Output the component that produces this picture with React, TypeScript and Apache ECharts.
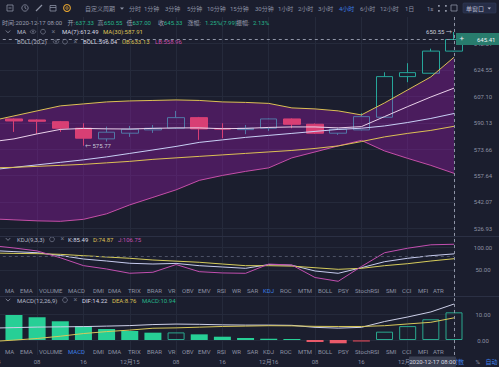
import React, { useEffect, useRef } from 'react';
import * as echarts from 'echarts';

// ---------------- data ----------------
const CATEGORIES = ['12月14', '04', '08', '12', '16', '20', '12月15', '04', '08', '12', '16', '20', '12月16', '04', '08', '12', '16', '20', '12月17', '04', '08'];
const OPEN = [591.6, 592.57, 591.93, 590.84, 586.7, 580.02, 583.58, 585.64, 586.7, 593.41, 586.57, 585.82, 586.7, 592.57, 589.19, 583.58, 585.64, 593.67, 620.12, 622.37, 637.33];
const CLOSE = [591.0, 591.29, 591.1, 586.7, 580.46, 584.2, 586.07, 586.7, 593.41, 586.26, 586.14, 586.7, 592.57, 589.19, 583.58, 586.07, 594.05, 620.12, 622.77, 637.34, 645.33];
const LOW = [589.5, 584.39, 583.14, 584.39, 575.77, 578.34, 581.27, 583.77, 586.26, 579.4, 580.46, 582.95, 585.01, 586.7, 583.14, 582.52, 585.33, 593.22, 616.42, 622.24, 637.0];
const HIGH = [592.4, 592.89, 592.25, 591.29, 589.82, 587.7, 588.13, 588.76, 597.72, 593.86, 589.82, 588.76, 592.89, 592.89, 589.69, 586.89, 596.24, 623.03, 629.12, 639.0, 650.55];

const UB = [591.29, 594.5, 597.72, 600.93, 602.21, 603.5, 604.14, 604.46, 604.79, 604.46, 603.5, 603.18, 602.54, 599.64, 598.99, 597.72, 595.14, 602.86, 611.33, 619.92, 633.13];
const LB = [532.32, 531.75, 531.17, 530.89, 532.03, 535.19, 540.35, 544.72, 549.15, 554.75, 557.7, 560.13, 562.25, 568.32, 571.96, 575.66, 579.09, 572.57, 568.02, 563.77, 558.96];
const BOLL_MID = [561.04, 562.56, 564.07, 565.59, 567.11, 568.93, 571.05, 573.17, 575.34, 577.84, 579.4, 580.96, 582.21, 583.45, 584.7, 585.95, 586.7, 588.13, 590.32, 592.89, 596.04];
const MA7 = [578.15, 580.02, 583.14, 585.95, 586.57, 586.3, 586.2, 586.6, 586.9, 586.9, 586.4, 586.6, 587.2, 587.5, 587.5, 586.9, 587.7, 594.05, 600.48, 606.71, 612.49];
const MA30 = [562.25, 562.56, 563.17, 563.77, 564.38, 565.29, 566.2, 567.41, 568.32, 569.23, 570.14, 571.05, 571.96, 572.87, 574.1, 575.66, 578.34, 581.27, 583.45, 585.33, 587.91];

const K_VALUES = [93, 90.5, 88, 82, 74.2, 69.8, 64.8, 63.2, 64.5, 59.5, 56.6, 53.7, 62, 60.5, 47.8, 42.7, 55, 68.3, 75.8, 81.5, 85.49];
const D_VALUES = [87.5, 86.5, 86, 84.5, 81.5, 78.6, 75.8, 72, 69.5, 67, 63.2, 59.5, 59.5, 58.5, 55, 51.5, 53.7, 59.5, 63.9, 69.8, 74.87];
const J_VALUES = [104, 98.5, 92, 77, 59.6, 52.2, 42.8, 45, 62, 46.3, 43.5, 42.7, 63, 61, 33.4, 25.1, 57.6, 88, 98, 105.5, 106.75];

const DIF = [4.7, 4.9, 5.1, 5.2, 5.3, 5.5, 5.7, 6.1, 6.3, 6.2, 6.0, 5.9, 5.9, 5.8, 5.0, 4.7, 5.0, 7.3, 9.1, 11.1, 14.22];
const DEA = [-0.6, -0.05, 0.6, 1.5, 2.55, 3.32, 3.92, 4.65, 4.8, 5.08, 5.35, 5.5, 5.65, 5.6, 5.4, 5.35, 5.35, 5.65, 6.35, 7.0, 8.76];
const MACD_HIST = [10.6, 9.9, 9.0, 7.4, 5.5, 4.35, 3.55, 2.9, 3.0, 2.24, 1.3, 0.8, 0.5, 0.4, -0.8, -1.3, -0.7, 3.3, 5.5, 8.2, 10.94];

const PRICE_TICKS = [526.93, 542.07, 557.64, 573.66, 590.13, 607.1, 624.55, 642.51];
const KDJ_TICKS = [50, 100];
const MACD_TICKS = [0, 10];
const CROSS_PRICE = 645.41;
const CROSS_TIME = '2020-12-17 08:00';

const PERIODS = ['分时', '1分钟', '3分钟', '5分钟', '10分钟', '15分钟', '30分钟', '1小时', '2小时', '3小时', '4小时', '6小时', '12小时', '1日'];
const PERIOD_X = [129, 144, 165, 187, 207, 230, 255, 278, 298, 318, 339, 360, 380, 405];
const TABS = ['MA', 'EMA', 'VOLUME', 'MACD', 'DMI', 'DMA', 'TRIX', 'BRAR', 'VR', 'OBV', 'EMV', 'RSI', 'WR', 'SAR', 'KDJ', 'ROC', 'MTM', 'BOLL', 'PSY', 'StochRSI', 'SMI', 'CCI', 'MFI', 'ATR'];
const TAB_X = [5, 20, 39, 68, 93, 108, 128, 147, 168, 182, 198, 217, 232, 247, 263, 280, 298, 318, 338, 355, 386, 402, 418, 433];

// ---------------- style ----------------
const BG = '#1b1e2e';
const GRID_C = '#252a3b';
const AX_C = '#8c91a3';
const GRAY = '#8c91a3';
const LIGHT = '#d5d8e2';
const YELLOW = '#dcc055';
const PINK = '#c54fa8';
const GREEN = '#26b58a';
const TEAL = '#26a69a';
const RED = '#ef5350';
const BLUE = '#3d7fe6';
const CROSS_C = '#8f94a6';
const FF = 'Roboto, "Noto Sans CJK SC", sans-serif';
const FS = 6;

const ln = Math.log;

function buildOption() {
  const last = CATEGORIES.length - 1;
  const gridBase = { left: -9.2, right: 45, outerBoundsMode: 'none', containLabel: false };
  const grids = [
    { ...gridBase, top: 17, height: 219 },
    { ...gridBase, top: 236, height: 60 },
    { ...gridBase, top: 296, height: 59 },
  ];
  const labelStyle = { color: AX_C, fontSize: FS, fontFamily: FF };
  const xAxes = [0, 1, 2].map((i) => ({
    type: 'category',
    gridIndex: i,
    data: CATEGORIES,
    boundaryGap: false,
    axisLine: { show: false },
    axisTick: { show: false },
    axisLabel:
      i === 2
        ? { ...labelStyle, interval: 1, margin: 3, formatter: (v: string, idx: number) => (idx === last ? '' : v) }
        : { show: false },
    splitLine: { show: true, interval: 1, lineStyle: { color: GRID_C, width: 1 } },
  }));
  const yAx = (gi: number, min: number, max: number, ticks: number[], fmt: (v: number) => string) => ({
    type: 'value',
    gridIndex: gi,
    position: 'right',
    min,
    max,
    axisLine: { show: false },
    axisTick: { show: false, customValues: ticks },
    axisLabel: { ...labelStyle, customValues: ticks, formatter: fmt, margin: 29, align: 'center' },
    splitLine: { show: true, lineStyle: { color: GRID_C, width: 1 } },
  });
  const yAxes = [
    yAx(0, ln(522.6), ln(661.1), PRICE_TICKS.map(ln), (v) => Math.exp(v).toFixed(2)),
    yAx(1, -7.3, 124.9, KDJ_TICKS, (v) => v.toFixed(2)),
    yAx(2, -5.93, 17.4, MACD_TICKS, (v) => v.toFixed(2)),
  ];

  const dash = { color: CROSS_C, type: [3, 3] as any, width: 1 };
  const vCross = { xAxis: last, lineStyle: dash };
  const ml = (data: any[]) => ({ symbol: ['none', 'none'], silent: true, animation: false, label: { show: false }, lineStyle: dash, data });

  const line = (name: string, data: number[], color: string, xi: number, z = 3, extra: any = {}) => ({
    type: 'line', name, data, xAxisIndex: xi, yAxisIndex: xi, symbol: 'none', showSymbol: false,
    lineStyle: { color, width: 1 }, z, silent: true, ...extra,
  });

  let hiIdx = 0, loIdx = 0;
  HIGH.forEach((h, i) => { if (h > HIGH[hiIdx]) hiIdx = i; });
  LOW.forEach((l, i) => { if (l < LOW[loIdx]) loIdx = i; });
  const annoLabel = { show: true, color: '#c9ccd8', fontSize: FS, fontFamily: FF };

  const macdBars = MACD_HIST.map((v, i) => {
    const prev = i > 0 ? MACD_HIST[i - 1] : v;
    const rising = v > prev;
    let itemStyle: any;
    if (v >= 0) itemStyle = rising ? { color: 'rgba(0,0,0,0)', borderColor: '#2aa88e', borderWidth: 1 } : { color: '#27cf96' };
    else itemStyle = rising ? { color: '#9b3c4c' } : { color: '#ea5a6a' };
    return { value: v, itemStyle };
  });

  const series: any[] = [
    {
      type: 'candlestick', xAxisIndex: 0, yAxisIndex: 0, z: 1, clip: false, barWidth: 17, silent: true,
      data: OPEN.map((o, i) => [ln(o), ln(CLOSE[i]), ln(LOW[i]), ln(HIGH[i])]),
      itemStyle: { color: 'rgba(0,0,0,0)', color0: RED, borderColor: TEAL, borderColor0: RED, borderWidth: 1 },
    },
    line('LB', LB.map(ln), PINK, 0, 3, { stack: 'boll' }),
    line('UB', UB.map((u, i) => ln(u) - ln(LB[i])), YELLOW, 0, 2, {
      stack: 'boll', areaStyle: { color: 'rgba(170,25,190,0.33)', opacity: 1 },
    }),
    line('BOLL', BOLL_MID.map(ln), '#c8d0f5', 0),
    line('MA7', MA7.map(ln), '#ead2ea', 0),
    line('MA30', MA30.map(ln), YELLOW, 0, 3, {
      markLine: ml([vCross, { yAxis: ln(CROSS_PRICE), lineStyle: dash }]),
      markPoint: {
        symbol: 'circle', symbolSize: 0.1, silent: true, animation: false, itemStyle: { color: 'rgba(0,0,0,0)' },
        data: [
          { coord: [hiIdx, ln(HIGH[hiIdx])], label: { ...annoLabel, position: 'left', distance: 2, formatter: `${HIGH[hiIdx].toFixed(2)} →` } },
          { coord: [loIdx, ln(LOW[loIdx])], label: { ...annoLabel, position: 'right', distance: 1.5, formatter: `← ${LOW[loIdx].toFixed(2)}` } },
        ],
      },
    }),
    line('K', K_VALUES, '#c8cdf0', 1, 3, {
      markLine: ml([vCross, { yAxis: 80, lineStyle: { color: '#4c5165', type: [3, 3], width: 1 } }]),
    }),
    line('D', D_VALUES, '#d6cc5c', 1),
    line('J', J_VALUES, '#c24fb0', 1),
    {
      type: 'bar', xAxisIndex: 2, yAxisIndex: 2, data: macdBars, barWidth: 17, clip: false, z: 2, silent: true,
    },
    line('DIF', DIF, '#cdd0e8', 2, 3, { markLine: ml([vCross]) }),
    line('DEA', DEA, '#d8c85a', 2),
  ];

  // ---------------- graphic overlay ----------------
  const G: any[] = [];
  const T = (text: string, x: number, y: number, fill: string, extra: any = {}) =>
    G.push({
      type: 'text', x, y, z: 100, silent: true,
      style: { text, fill, fontSize: FS, fontFamily: FF, textAlign: 'left', textVerticalAlign: 'middle', ...extra },
    });
  const stroke = (el: any) => G.push({ z: 100, silent: true, ...el });

  // toolbar icons
  stroke({ type: 'rect', shape: { x: 7, y: 5, width: 6, height: 6 }, style: { fill: 'none', stroke: GRAY, lineWidth: 0.8 } });
  stroke({ type: 'line', shape: { x1: 8.5, y1: 8, x2: 11.5, y2: 8 }, style: { stroke: GRAY, lineWidth: 0.8 } });
  stroke({ type: 'circle', shape: { cx: 25, cy: 8, r: 3.2 }, style: { fill: 'none', stroke: GRAY, lineWidth: 0.8 } });
  stroke({ type: 'polyline', shape: { points: [[25, 6], [25, 8], [26.5, 9]] }, style: { fill: 'none', stroke: GRAY, lineWidth: 0.8 } });
  stroke({ type: 'line', shape: { x1: 36, y1: 11, x2: 42, y2: 5 }, style: { stroke: GRAY, lineWidth: 1.2 } });
  stroke({ type: 'rect', shape: { x: 50, y: 5.5, width: 6, height: 5.5 }, style: { fill: 'none', stroke: GRAY, lineWidth: 0.8 } });
  stroke({ type: 'line', shape: { x1: 50, y1: 7.5, x2: 56, y2: 7.5 }, style: { stroke: GRAY, lineWidth: 0.8 } });
  stroke({ type: 'circle', shape: { cx: 67, cy: 8, r: 3.4 }, style: { fill: 'none', stroke: '#e0a030', lineWidth: 1.1 } });
  stroke({ type: 'circle', shape: { cx: 67, cy: 8, r: 1.2 }, style: { fill: 'none', stroke: '#e0a030', lineWidth: 0.9 } });

  T('自定义周期', 85, 8.5, GRAY);
  stroke({ type: 'polygon', shape: { points: [[120, 7.5], [124, 7.5], [122, 9.8]] }, style: { fill: GRAY } });
  PERIODS.forEach((p, i) => T(p, PERIOD_X[i], 8.5, p === '4小时' ? BLUE : GRAY));
  T('1s', 427, 8.5, GRAY);
  [[438, 5], [445, 5], [438, 10], [445, 10]].forEach(([x, y]) =>
    stroke({ type: 'rect', shape: { x, y, width: 1.8, height: 1.8 }, style: { fill: GRAY } }));
  stroke({ type: 'rect', shape: { x: 451, y: 5, width: 6, height: 6 }, style: { fill: 'none', stroke: GRAY, lineWidth: 0.8 } });
  stroke({ type: 'rect', shape: { x: 463, y: 3, width: 33, height: 10, r: 1 }, style: { fill: '#262d47', stroke: '#343c5a', lineWidth: 0.6 } });
  T('单窗口', 466, 8.3, '#b9bdd0');
  stroke({ type: 'polygon', shape: { points: [[487.5, 7.5], [491, 7.5], [489.25, 9.6]] }, style: { fill: '#b9bdd0' } });

  // OHLC header
  const n = OPEN.length - 1;
  const prevClose = CLOSE[n - 1];
  const chg = CLOSE[n] - prevClose;
  const HG = '#9a9fb0';
  T(`时间:${CROSS_TIME}`, 2, 22, HG);
  T('开:', 67.5, 22, HG); T(OPEN[n].toFixed(2), 75.5, 22, GREEN);
  T('高:', 97.5, 22, HG); T(HIGH[n].toFixed(2), 104, 22, GREEN);
  T('低:', 126.5, 22, HG); T(LOW[n].toFixed(2), 132.5, 22, GREEN);
  T('收:', 158, 22, HG); T(CLOSE[n].toFixed(2), 164, 22, GREEN);
  T('涨幅:', 187.5, 22, HG); T(`${((chg / prevClose) * 100).toFixed(2)}%(${chg.toFixed(2)})`, 205, 22, GREEN);
  T('振幅:', 236, 22, HG); T(`${(((HIGH[n] - LOW[n]) / prevClose) * 100).toFixed(2)}%`, 253, 22, GREEN);

  const chevron = (y: number) =>
    stroke({ type: 'polyline', shape: { points: [[5.8, y - 1.2], [8, y + 1.1], [10.2, y - 1.2]] }, style: { fill: 'none', stroke: GRAY, lineWidth: 0.8 } });
  const eye = (x: number, y: number) => {
    stroke({ type: 'ellipse', shape: { cx: x, cy: y, rx: 2.8, ry: 1.7 }, style: { fill: 'none', stroke: '#6d7285', lineWidth: 0.7 } });
    stroke({ type: 'circle', shape: { cx: x, cy: y, r: 0.8 }, style: { fill: '#6d7285' } });
  };
  const gear = (x: number, y: number) =>
    stroke({ type: 'circle', shape: { cx: x, cy: y, r: 2.4 }, style: { fill: 'none', stroke: '#6d7285', lineWidth: 0.8 } });
  const cross = (x: number, y: number) => T('×', x, y, '#6d7285', { fontSize: 7 });

  // MA legend
  chevron(31.7); T('MA', 17, 31.7, '#b4b8c6'); eye(33, 31.7); gear(43, 31.7); cross(51.5, 31.7);
  T(`MA(7):${MA7[n].toFixed(2)}`, 62, 31.7, LIGHT); T(`MA(30):${MA30[n].toFixed(2)}`, 103, 31.7, YELLOW);
  // BOLL legend
  T('BOLL(20,2)', 17, 41.7, '#b4b8c6'); eye(56, 41.7); gear(65, 41.7); cross(73.5, 41.7);
  T(`BOLL:${BOLL_MID[n].toFixed(2)}`, 83, 41.7, LIGHT); T(`UB:${UB[n].toFixed(2)}`, 122, 41.7, YELLOW); T(`LB:${LB[n].toFixed(2)}`, 155, 41.7, PINK);
  // KDJ legend
  chevron(239.3); T('KDJ(9,3,3)', 17, 239.3, '#b4b8c6'); gear(52, 239.3); cross(60.5, 239.3);
  T(`K:${K_VALUES[n].toFixed(2)}`, 68, 239.3, LIGHT); T(`D:${D_VALUES[n].toFixed(2)}`, 93, 239.3, YELLOW); T(`J:${J_VALUES[n].toFixed(2)}`, 118, 239.3, '#c24fb0');
  // MACD legend
  chevron(300); T('MACD(12,26,9)', 17, 300, '#b4b8c6'); gear(65, 300); cross(73.5, 300);
  T(`DIF:${DIF[n].toFixed(2)}`, 82, 300, LIGHT); T(`DEA:${DEA[n].toFixed(2)}`, 112, 300, YELLOW); T(`MACD:${MACD_HIST[n].toFixed(2)}`, 142, 300, GREEN);

  // tabs
  TABS.forEach((t, i) => {
    T(t, TAB_X[i], 290, t === 'KDJ' ? BLUE : GRAY);
    T(t, TAB_X[i], 351, t === 'MACD' ? BLUE : GRAY);
  });

  // panel separators
  [236, 296].forEach((y) => stroke({ type: 'line', shape: { x1: 0, y1: y + 0.5, x2: 499, y2: y + 0.5 }, style: { stroke: '#2b3044', lineWidth: 1 } }));

  // price box
  stroke({ type: 'rect', shape: { x: 456, y: 33, width: 43, height: 12 }, style: { fill: '#287c6d' } });
  T('+', 459.5, 38.8, '#e8eaf0', { fontSize: 8 });
  T(CROSS_PRICE.toFixed(2), 477, 39, '#eef0f5');

  // bottom right
  T('对数', 452, 361.7, BLUE);
  stroke({ type: 'rect', shape: { x: 409, y: 356.5, width: 47, height: 10.5, r: 1 }, style: { fill: '#3b4052' } });
  T(CROSS_TIME, 432.5, 361.7, '#d5d8e0', { textAlign: 'center' });
  T('%', 475.5, 361.7, GRAY);
  T('自动', 485.5, 361.7, BLUE);

  return {
    animation: false,
    backgroundColor: BG,
    textStyle: { fontFamily: FF },
    grid: grids,
    xAxis: xAxes,
    yAxis: yAxes,
    series,
    graphic: { elements: G },
  };
}

export default function App() {
  const ref = useRef<HTMLDivElement>(null);
  useEffect(() => {
    document.body.style.margin = '0';
    const chart = echarts.init(ref.current as HTMLDivElement, null, { renderer: 'svg' });
    chart.setOption(buildOption() as any);
    return () => chart.dispose();
  }, []);
  return <div ref={ref} style={{ width: 499, height: 367, background: BG }} />;
}
